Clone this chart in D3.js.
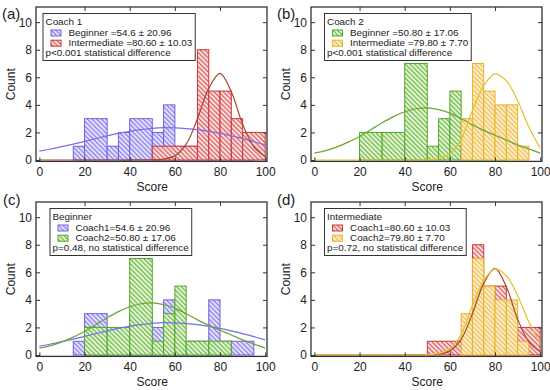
<!DOCTYPE html>
<html>
<head>
<meta charset="utf-8">
<script src="https://cdnjs.cloudflare.com/ajax/libs/d3/7.8.5/d3.min.js"></script>
<style>
  body { margin: 0; background: #fff; }
  svg { display: block; font-family: "Liberation Sans", Arial, sans-serif; }
</style>
</head>
<body>
<div id="chart"></div>
<script>
// histogram bins (edges) and counts
var c1BegEdges = [15, 20, 30, 35, 40, 50, 55, 60, 75, 80, 85, 95];
var c1BegCounts = [1, 3, 1, 2, 3, 2, 4, 1, 4, 1, 1];
var c1IntEdges = [50, 70, 75, 80, 85, 90, 100];
var c1IntCounts = [1, 8, 5, 5, 3, 2];
var c2BegEdges = [20, 30, 40, 50, 55, 60, 65, 75, 85];
var c2BegCounts = [2, 2, 7, 1, 3, 5, 1, 1];
var c2IntEdges = [65, 70, 75, 80, 85, 90, 95];
var c2IntCounts = [3, 7, 5, 4, 4, 1];

// fitted curves, sampled by eye every 5 points of score
var fitX = [0, 5, 10, 15, 20, 25, 30, 35, 40, 45, 50, 55, 60, 65, 70, 75, 80, 85, 90, 95, 100];
var c1BegFit = [0.65, 0.8, 0.97, 1.15, 1.35, 1.55, 1.75, 1.93, 2.08, 2.2, 2.3, 2.35, 2.33, 2.28, 2.2, 2.08, 1.93, 1.75, 1.55, 1.33, 1.1];
var c1IntFit = [0, 0, 0, 0, 0, 0, 0, 0, 0, 0.01, 0.02, 0.07, 0.3, 1.15, 3.0, 5.2, 6.28, 4.95, 2.6, 0.95, 0.25];
var c2BegFit = [0.5, 0.68, 0.95, 1.3, 1.7, 2.2, 2.7, 3.15, 3.5, 3.72, 3.78, 3.65, 3.4, 3.0, 2.55, 2.15, 1.8, 1.45, 1.1, 0.8, 0.5];
var c2IntFit = [0, 0, 0, 0, 0, 0, 0, 0, 0, 0, 0.02, 0.1, 0.45, 1.5, 3.6, 5.4, 6.25, 5.75, 4.3, 2.4, 0.85];

// axis ticks
var xTicks = [0, 20, 40, 60, 80, 100];
var yTicks = [0, 2, 4, 6, 8, 10];

// panel texts
var panelTags = ['(a)', '(b)', '(c)', '(d)'];
var legendTitles = ['Coach 1', 'Coach 2', 'Beginner', 'Intermediate'];
var legendLabels = [
  ['Beginner =54.6 \u00b1 20.96', 'Intermediate =80.60 \u00b1 10.03'],
  ['Beginner =50.80 \u00b1 17.06', 'Intermediate =79.80 \u00b1 7.70'],
  ['Coach1=54.6 \u00b1 20.96', 'Coach2=50.80 \u00b1 17.06'],
  ['Coach1=80.60 \u00b1 10.03', 'Coach2=79.80 \u00b1 7.70']
];
var pNotes = [
  'p<0.001 statistical difference',
  'p<0.001 statistical difference',
  'p=0.48, no statistical difference',
  'p=0.72, no statistical difference'
];
var panelSeries = [['c1Beg', 'c1Int'], ['c2Beg', 'c2Int'], ['c1Beg', 'c2Beg'], ['c1Int', 'c2Int']];

var series = {
  c1Beg: { edges: c1BegEdges, counts: c1BegCounts, fit: c1BegFit },
  c1Int: { edges: c1IntEdges, counts: c1IntCounts, fit: c1IntFit },
  c2Beg: { edges: c2BegEdges, counts: c2BegCounts, fit: c2BegFit },
  c2Int: { edges: c2IntEdges, counts: c2IntCounts, fit: c2IntFit }
};

var styles = {
  c1Beg: { bg: '#e6e2fc', hatch: '#7a6cec', edge: '#6f62e0', curve: '#7b6cf0' },
  c1Int: { bg: '#fce0e0', hatch: '#d8464a', edge: '#c83838', curve: '#a8452c' },
  c2Beg: { bg: '#e4f5d6', hatch: '#5cb032', edge: '#52a82a', curve: '#6aa830' },
  c2Int: { bg: '#fdedcc', hatch: '#f0b83c', edge: '#e6b428', curve: '#e3c22c' }
};

var W = 550, H = 390;
var offsets = [[0, 0], [275, 0], [0, 195], [275, 195]];
var tagPos = [[2, 19], [277, 19], [3, 205], [277, 205]];
var legendLeft = [43, 49.5, 50, 49.5];
var ink = '#222';

var svg = d3.select('#chart').append('svg')
    .attr('width', W)
    .attr('height', H);

var defs = svg.append('defs');
Object.keys(styles).forEach(function(k) {
  var s = styles[k];
  var p = defs.append('pattern')
      .attr('id', 'hatch-' + k)
      .attr('patternUnits', 'userSpaceOnUse')
      .attr('width', 3.3)
      .attr('height', 3.3)
      .attr('patternTransform', 'rotate(-45)');
  p.append('rect').attr('width', 3.3).attr('height', 3.3).attr('fill', s.bg);
  p.append('line')
      .attr('x1', 0.6).attr('y1', 0).attr('x2', 0.6).attr('y2', 3.3)
      .attr('stroke', s.hatch)
      .attr('stroke-width', 1.05);
});

var x = d3.scaleLinear().domain([-1.5, 100.8]).range([36, 267]);
var y = d3.scaleLinear().domain([-0.1, 11.1]).range([161.4, 7]);

var line = d3.line()
    .x(function(d) { return x(d[0]); })
    .y(function(d) { return y(d[1]); })
    .curve(d3.curveCatmullRom.alpha(0.5));

panelTags.forEach(function(tag, i) {
  var g = svg.append('g')
      .attr('transform', 'translate(' + offsets[i][0] + ',' + offsets[i][1] + ')');

  // bars
  panelSeries[i].forEach(function(key) {
    var s = series[key];
    var bins = s.counts.map(function(c, j) { return { x0: s.edges[j], x1: s.edges[j + 1], n: c }; });
    g.append('g').selectAll('rect')
        .data(bins)
        .enter().append('rect')
        .attr('x', function(d) { return x(d.x0); })
        .attr('y', function(d) { return y(d.n); })
        .attr('width', function(d) { return x(d.x1) - x(d.x0); })
        .attr('height', function(d) { return y(0) - y(d.n); })
        .attr('fill', 'url(#hatch-' + key + ')')
        .attr('stroke', styles[key].edge)
        .attr('stroke-width', 1);
  });

  // fitted curves on top
  panelSeries[i].forEach(function(key) {
    var pts = fitX.map(function(v, j) { return [v, series[key].fit[j]]; });
    g.append('path')
        .attr('d', line(pts))
        .attr('fill', 'none')
        .attr('stroke', styles[key].curve)
        .attr('stroke-width', 1.2);
  });

  // frame + inward ticks on all sides
  var axB = g.append('g').attr('transform', 'translate(0,' + y(-0.1) + ')')
      .call(d3.axisBottom(x).tickValues(xTicks).tickSizeInner(-4).tickSizeOuter(0).tickPadding(6));
  var axL = g.append('g').attr('transform', 'translate(' + x(-1.5) + ',0)')
      .call(d3.axisLeft(y).tickValues(yTicks).tickSizeInner(-4).tickSizeOuter(0).tickPadding(4));
  var axT = g.append('g').attr('transform', 'translate(0,' + y(11.1) + ')')
      .call(d3.axisTop(x).tickValues(xTicks.slice(1, 5)).tickSizeInner(-4).tickSizeOuter(0).tickFormat(''));
  var axR = g.append('g').attr('transform', 'translate(' + x(100.8) + ',0)')
      .call(d3.axisRight(y).tickValues(yTicks.slice(1)).tickSizeInner(-4).tickSizeOuter(0).tickFormat(''));
  [axB, axL, axT, axR].forEach(function(a) {
    a.attr('font-family', null).attr('font-size', 12);
    a.select('.domain').remove();
    a.selectAll('line').attr('stroke', '#333').attr('stroke-width', 1);
    a.selectAll('text').attr('fill', ink);
  });
  g.append('rect')
      .attr('x', x(-1.5)).attr('y', y(11.1))
      .attr('width', x(100.8) - x(-1.5))
      .attr('height', y(-0.1) - y(11.1))
      .attr('fill', 'none')
      .attr('stroke', '#333')
      .attr('stroke-width', 1.3);

  // axis titles
  g.append('text')
      .attr('x', x(50)).attr('y', 191)
      .attr('text-anchor', 'middle')
      .attr('font-size', 12)
      .attr('fill', ink)
      .text('Score');
  g.append('text')
      .attr('transform', 'translate(15,' + (y(5.5)) + ') rotate(-90)')
      .attr('text-anchor', 'middle')
      .attr('font-size', 12)
      .attr('fill', ink)
      .text('Count');

  // legend
  var lx = legendLeft[i], ly = 13.5;
  var leg = g.append('g').attr('transform', 'translate(' + lx + ',' + ly + ')');
  var box = leg.append('rect').attr('fill', '#fff').attr('stroke', '#333').attr('stroke-width', 1);
  var fs = 9.9;
  var texts = [];
  texts.push(leg.append('text').attr('x', 2.5).attr('y', 11.5).attr('font-size', fs).attr('fill', ink).text(legendTitles[i]));
  panelSeries[i].forEach(function(key, j) {
    var cy = 22 + j * 10.2;
    leg.append('rect')
        .attr('x', 8).attr('y', cy - 5.5)
        .attr('width', 10).attr('height', 6)
        .attr('fill', 'url(#hatch-' + key + ')')
        .attr('stroke', styles[key].edge)
        .attr('stroke-width', 1);
    texts.push(leg.append('text').attr('x', 25.5).attr('y', cy + 0.5).attr('font-size', fs).attr('fill', ink).text(legendLabels[i][j]));
  });
  texts.push(leg.append('text').attr('x', 2.5).attr('y', 42.7).attr('font-size', fs).attr('fill', ink).text(pNotes[i]));
  var wMax = d3.max(texts, function(t) { return (+t.attr('x')) + t.node().getComputedTextLength(); });
  box.attr('width', wMax + 3).attr('height', 47);

  // panel tag
  svg.append('text')
      .attr('x', tagPos[i][0]).attr('y', tagPos[i][1])
      .attr('font-size', 15)
      .attr('fill', ink)
      .text(tag);
});
</script>
</body>
</html>
